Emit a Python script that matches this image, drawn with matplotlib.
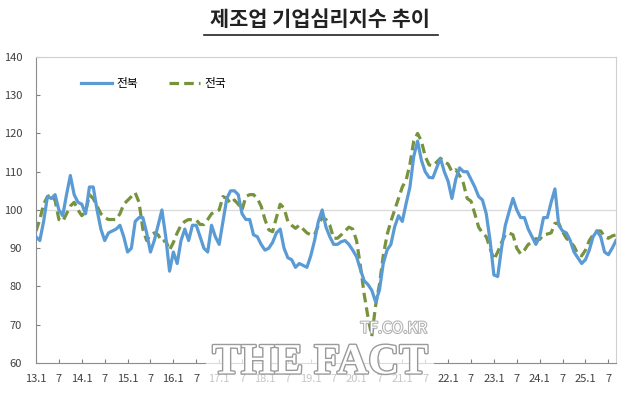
import matplotlib
matplotlib.use("Agg")
import matplotlib.pyplot as plt
import matplotlib.patheffects as pe
import numpy as np

plt.rcParams['font.family'] = ['Noto Sans CJK KR', 'DejaVu Sans']

# 월별 지수 (2013.1 ~ 2025.9), 그림에서 읽은 값
jeonbuk = [93, 92, 97, 103.5, 103, 104, 100, 98.5, 104, 109,
           104, 102, 101.5, 99, 106, 106, 100, 95, 92, 94,
           94.5, 95, 96, 93, 89, 90, 97, 98, 98, 94,
           89, 92, 96, 100, 93, 84, 89, 86, 92, 95,
           92, 96, 96, 93, 90, 89, 96, 93, 91, 97,
           103, 105, 105, 104, 99, 97.5, 97.5, 93.5, 93, 91,
           89.5, 90, 91.5, 94, 95, 90, 87.5, 87, 85, 86,
           85.5, 85, 88, 92, 97, 100, 95.5, 93, 91, 91,
           91.7, 92, 91, 89.5, 87.8, 84.5, 81.5, 80.5, 79, 76,
           79, 86, 89.5, 91, 95.6, 98.5, 97, 101.7, 106, 114,
           118, 113, 110, 108.5, 108.4, 111, 113.5, 110, 107.5, 103,
           108, 111, 110, 110, 108, 106, 103.5, 102.6, 99, 92,
           83, 82.6, 90, 96, 99.6, 103, 100, 98, 98, 95,
           93, 91, 93, 98, 98, 102, 105.5, 96, 94.5, 94,
           92, 89, 87.5, 86, 87, 89.5, 93, 94.5, 93, 89,
           88.3, 90, 92]
jeonguk = [94.5, 97.5, 101.5, 103.5, 104, 102.5, 97.5, 97, 99, 101,
           102, 100, 98.5, 99.5, 104, 103, 101, 99, 98, 97.5,
           97.5, 97.5, 99, 101.5, 102.5, 103.5, 104.5, 102, 95, 92,
           93.5, 94, 93.5, 91.7, 92, 89.5, 91.5, 94, 96, 97,
           97.5, 97.4, 97.4, 96.2, 96.2, 97.5, 99, 99.6, 100, 103.5,
           103, 101.7, 102.6, 101.5, 100, 103.5, 104, 104, 103, 101,
           97.5, 94.8, 94.3, 98, 101.5, 100.5, 97, 96, 95.2, 96,
           95, 94, 93.5, 93.5, 96, 98, 97.5, 96, 92.6, 92.6,
           93.5, 94.5, 95.5, 95, 92, 85.5, 78, 72, 67, 75,
           80.5, 88, 93.5, 97, 100, 103, 106, 107.8, 112, 118,
           120, 118, 114, 111.8, 111.5, 112.5, 113.5, 112.6, 112, 110,
           110.5, 109, 107, 103, 102.3, 99, 95.5, 94, 93, 90,
           87, 89, 91.5, 93.5, 94, 93.5, 90, 88.5, 89.5, 91,
           91.5, 92.5, 92.3, 93.5, 93.7, 94, 96.5, 96.5, 94.3, 92.6,
           91.7, 90.5, 88.5, 88, 89.5, 92, 93.5, 94.5, 94.5, 93,
           92.6, 93.2, 93.5]

years = list(range(13, 26))
tick_labels = []
for y in years:
    tick_labels += [f"{y}.1", "7"]

x = np.arange(len(jeonbuk))

fig = plt.figure(figsize=(6.4, 3.98), dpi=100)
ax = fig.add_axes([0.05625, 0.088, 0.90625, 0.769])

ax.axhline(100, color='#d9d9d9', lw=0.9, zorder=1)
ax.plot(x, jeonbuk, color='#5b9bd5', lw=2.3, label='전북', zorder=3,
        solid_joinstyle='round')
ax.plot(x, jeonguk, color='#77933c', lw=2.3, ls=(0, (3, 1.6)), label='전국', zorder=2)

ax.set_xlim(0, len(jeonbuk) - 1)
ax.set_ylim(60, 140)
ax.set_yticks(range(60, 141, 10))
ax.set_xticks(np.arange(0, len(tick_labels) * 6, 6))
ax.set_xticklabels(tick_labels)
ax.tick_params(axis='both', direction='in', length=3, colors='#808080',
               labelcolor='#404040', labelsize=8)
ax.tick_params(axis='x', pad=8)
ax.tick_params(axis='y', pad=10)
for s in ['top', 'right']:
    ax.spines[s].set_color('#d0d0d0')
for s in ['left', 'bottom']:
    ax.spines[s].set_color('#8c8c8c')

ax.legend(loc='upper left', bbox_to_anchor=(0.06, 0.97), ncol=2, frameon=False,
          fontsize=8.5, handlelength=2.6, columnspacing=2.6, handletextpad=0.4)

fig.text(0.5, 0.952, '제조업 기업심리지수 추이', ha='center', va='center',
         fontsize=15, fontweight='bold', color='#222222')
fig.add_artist(plt.Line2D([0.318, 0.684], [0.912, 0.912], color='#222222', lw=1.2))

# 워터마크
fig.patches.append(plt.Rectangle((0.322, 0.022), 0.356, 0.125, transform=fig.transFigure,
                                 facecolor='white', alpha=0.7, edgecolor='none'))
fig.text(0.5, 0.087, 'THE FACT', ha='center', va='center', fontsize=31,
         family='Liberation Serif', fontweight='bold', color='white',
         path_effects=[pe.withStroke(linewidth=2, foreground='#9a9a9a')])
fig.text(0.615, 0.175, 'TF.CO.KR', ha='center', va='center', fontsize=11,
         color='white', path_effects=[pe.withStroke(linewidth=1.5, foreground='#b0b0b0')])

fig.savefig('out.png', dpi=100)
